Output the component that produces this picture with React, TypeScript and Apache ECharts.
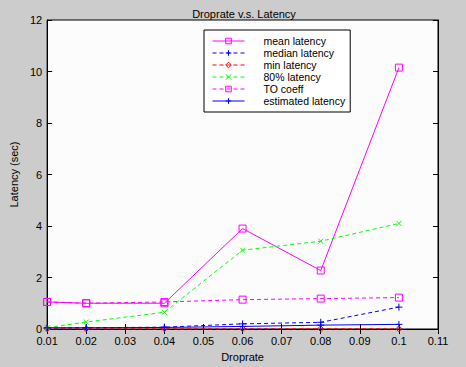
import React, { useEffect, useRef } from "react";
import * as echarts from "echarts";

const dropRates = [0.01, 0.02, 0.04, 0.06, 0.08, 0.1];
const meanLatency = [1.05, 1.0, 1.0, 3.9, 2.27, 10.15];
const medianLatency = [0.03, 0.05, 0.07, 0.2, 0.26, 0.85];
const minLatency = [0.01, 0.01, 0.01, 0.01, 0.01, 0.01];
const p80Latency = [0.05, 0.27, 0.65, 3.06, 3.41, 4.1];
const toCoeff = [1.05, 1.0, 1.05, 1.14, 1.18, 1.22];
const estimatedLatency = [0.05, 0.05, 0.06, 0.1, 0.15, 0.18];
const seriesNames = ["mean latency", "median latency", "min latency", "80% latency", "TO coeff", "estimated latency"];

const FONT = "Liberation Sans";
const PLUS = "path://M0,5L10,5M5,0L5,10";
const CROSS = "path://M0,0L10,10M10,0L0,10";

function pairs(ys: number[]) {
  return dropRates.map((x, i) => [x, ys[i]]);
}

export default function App() {
  const ref = useRef<HTMLDivElement>(null);
  useEffect(() => {
    if (!ref.current) return;
    const chart = echarts.init(ref.current, undefined, { renderer: "svg" });
    const mk = (name: string, data: number[], color: string, dashed: boolean, symbol: string, size: number) => ({
      name,
      type: "line",
      data: pairs(data),
      symbol,
      symbolSize: size,
      showSymbol: true,
      lineStyle: { color, width: 1, type: dashed ? [4, 3] : "solid" },
      itemStyle: { color: "rgba(0,0,0,0)", borderColor: color, borderWidth: 1 },
      emphasis: { disabled: true },
    });
    const fmt = (v: number) => String(parseFloat(v.toFixed(2)));
    chart.setOption({
      animation: false,
      backgroundColor: "#cccccc",
      textStyle: { fontFamily: FONT },
      title: {
        text: "Droprate v.s. Latency",
        left: 239,
        top: 3,
        textAlign: "center",
        textStyle: { fontFamily: FONT, fontSize: 11, fontWeight: "normal", color: "#000" },
      },
      legend: {
        orient: "vertical",
        left: 204,
        top: 30,
        padding: [5, 5, 5, 8],
        backgroundColor: "#ffffff",
        borderColor: "#000",
        borderWidth: 1,
        borderRadius: 0,
        itemWidth: 32,
        itemHeight: 7,
        itemGap: 0,
        itemStyle: { color: "rgba(0,0,0,0)", borderWidth: 1 },
        lineStyle: { width: 1 },
        data: seriesNames,
        textStyle: { fontFamily: FONT, fontSize: 10.5, color: "#000", lineHeight: 12, padding: [0, 0, 0, 14] },
      },
      grid: { left: 42, top: 20, right: 28, bottom: 35, show: true, backgroundColor: "#fcfcfc", borderColor: "#000", borderWidth: 1 },
      xAxis: [
        {
          type: "value",
          min: 0.01,
          max: 0.11,
          interval: 0.01,
          name: "Droprate",
          nameLocation: "middle",
          nameGap: 22,
          nameTextStyle: { fontFamily: FONT, fontSize: 11, color: "#000" },
          axisLine: { lineStyle: { color: "#000" } },
          axisTick: { inside: true, length: 5, lineStyle: { color: "#000" } },
          axisLabel: { formatter: fmt, fontFamily: FONT, fontSize: 11, color: "#000", margin: 6 },
          splitLine: { show: false },
        },
        {
          type: "value",
          position: "top",
          min: 0.01,
          max: 0.11,
          interval: 0.01,
          axisLine: { lineStyle: { color: "#000" } },
          axisTick: { inside: true, length: 5, lineStyle: { color: "#000" } },
          axisLabel: { show: false },
          splitLine: { show: false },
        },
      ],
      yAxis: [
        {
          type: "value",
          min: 0,
          max: 12,
          interval: 2,
          name: "Latency (sec)",
          nameLocation: "middle",
          nameGap: 23,
          nameTextStyle: { fontFamily: FONT, fontSize: 11, color: "#000" },
          axisLine: { show: true, lineStyle: { color: "#000" } },
          axisTick: { show: true, inside: true, length: 5, lineStyle: { color: "#000" } },
          axisLabel: { fontFamily: FONT, fontSize: 11, color: "#000", margin: 5 },
          splitLine: { show: false },
        },
        {
          type: "value",
          position: "right",
          min: 0,
          max: 12,
          interval: 2,
          axisLine: { show: true, lineStyle: { color: "#000" } },
          axisTick: { show: true, inside: true, length: 5, lineStyle: { color: "#000" } },
          axisLabel: { show: false },
          splitLine: { show: false },
        },
      ],
      series: [
        mk(seriesNames[0], meanLatency, "#ff00ff", false, "rect", 7),
        mk(seriesNames[1], medianLatency, "#0000ff", true, PLUS, 7),
        mk(seriesNames[2], minLatency, "#ff0000", true, "diamond", 6),
        mk(seriesNames[3], p80Latency, "#00ff00", true, CROSS, 5),
        mk(seriesNames[4], toCoeff, "#ff00ff", true, "rect", 7),
        mk(seriesNames[5], estimatedLatency, "#0000ff", false, PLUS, 7),
      ],
    });
    return () => chart.dispose();
  }, []);
  return <div ref={ref} style={{ position: "fixed", left: 0, top: 0, width: 466, height: 367 }} />;
}
